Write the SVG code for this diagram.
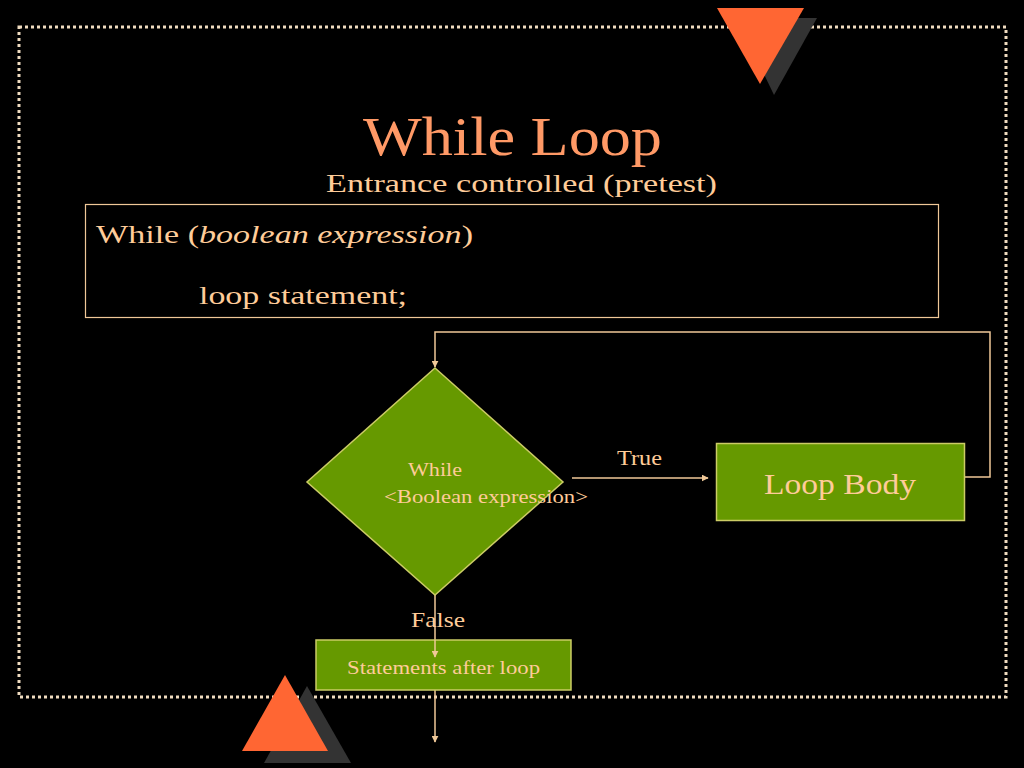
<svg xmlns="http://www.w3.org/2000/svg" width="1024" height="768" viewBox="0 0 1024 768">
<defs>
<style>
.t{font-family:'Liberation Serif','DejaVu Serif',serif;fill:#ffcc99}
.ln{stroke:#f0c898;stroke-width:1.5;fill:none}
.gr{fill:#669900;stroke:#cccc66;stroke-width:1.5}
</style>
<marker id="ah" viewBox="0 0 10 10" refX="9" refY="5" markerWidth="7" markerHeight="7" orient="auto" markerUnits="userSpaceOnUse">
<path d="M0,0 L10,5 L0,10 z" fill="#f0c898"/>
</marker>
</defs>
<rect width="1024" height="768" fill="#000"/>
<rect x="19" y="27" width="987" height="670" fill="none" stroke="#f0dcc0" stroke-width="3" stroke-dasharray="3 3"/>
<polygon points="737,18 817,18 774,95" fill="#333"/>
<polygon points="717,8 804,8 760,84" fill="#ff6633"/>
<polygon points="307,686 264,763 351,763" fill="#333"/>
<polygon points="285,675 242,751 328,751" fill="#ff6633"/>
<text x="363" y="155" class="t" style="fill:#ff9966;font-size:54px" textLength="299" lengthAdjust="spacingAndGlyphs">While Loop</text>
<text x="326" y="192" class="t" style="font-size:26px" textLength="391" lengthAdjust="spacingAndGlyphs">Entrance controlled (pretest)</text>
<g id="code">
<rect x="85.5" y="204.5" width="853" height="113" fill="none" stroke="#f0c898" stroke-width="1.2"/>
<text x="96" y="243" class="t" style="font-size:26px" textLength="377" lengthAdjust="spacingAndGlyphs">While (<tspan font-style="italic">boolean expression</tspan>)</text>
<text x="199" y="304" class="t" style="font-size:26px" textLength="208" lengthAdjust="spacingAndGlyphs">loop statement;</text>
</g>
<g id="connectors">
<line x1="572" y1="478" x2="708" y2="478" class="ln" marker-end="url(#ah)"/>
<polyline points="964,477 990,477 990,332 435,332 435,367" class="ln" marker-end="url(#ah)"/>
<line x1="435" y1="595" x2="435" y2="657" class="ln" marker-end="url(#ah)"/>
<line x1="435" y1="690" x2="435" y2="742" class="ln" marker-end="url(#ah)"/>
</g>
<g id="decision">
<polygon points="435,368 563,482 435,595 307,482" class="gr"/>
<text x="408" y="476" class="t" style="font-size:18px" textLength="54" lengthAdjust="spacingAndGlyphs">While</text>
<text x="384" y="503" class="t" style="font-size:18px" textLength="204" lengthAdjust="spacingAndGlyphs">&lt;Boolean expression&gt;</text>
</g>
<text x="617" y="465" class="t" style="font-size:21px" textLength="45" lengthAdjust="spacingAndGlyphs">True</text>
<g id="loopbody">
<rect x="716.5" y="443.5" width="248" height="77" class="gr"/>
<text x="764" y="494" class="t" style="font-size:30px" textLength="152" lengthAdjust="spacingAndGlyphs">Loop Body</text>
</g>
<text x="411" y="627" class="t" style="font-size:21px" textLength="54" lengthAdjust="spacingAndGlyphs">False</text>
<g id="after">
<rect x="316" y="640" width="255" height="50" class="gr"/>
<text x="347" y="674" class="t" style="font-size:19px" textLength="193" lengthAdjust="spacingAndGlyphs">Statements after loop</text>
</g>
<line x1="435" y1="640" x2="435" y2="657" class="ln" marker-end="url(#ah)"/>
</svg>
